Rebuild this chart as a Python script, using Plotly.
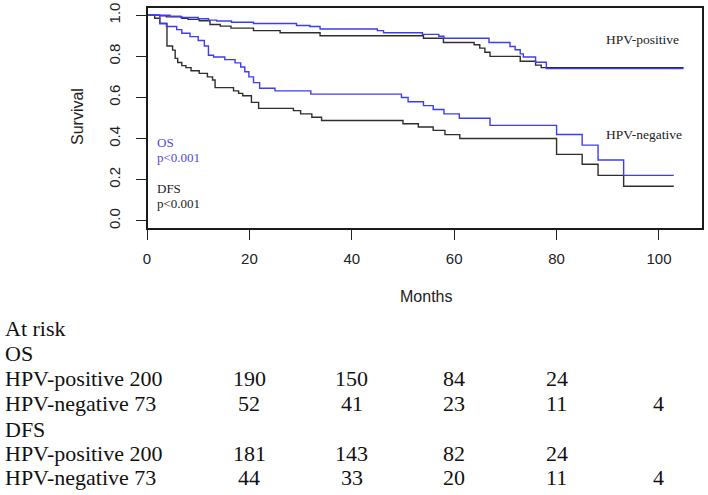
import plotly.graph_objects as go

# ---- Kaplan-Meier step data (months, survival) ----
os_pos_t = [0, 4.5, 6.6, 10.0, 12.0, 13.6, 16.5, 20.8, 29.2, 31.8, 33.8, 45.0, 46.2, 53.8, 57.0, 58.0, 66.8, 70.9, 71.9, 72.9, 73.5, 75.9, 78.0, 104.8]
os_pos_s = [1.0, 0.995, 0.989, 0.983, 0.976, 0.972, 0.966, 0.960, 0.950, 0.945, 0.933, 0.925, 0.915, 0.907, 0.898, 0.888, 0.867, 0.848, 0.832, 0.812, 0.797, 0.771, 0.740, 0.740]

dfs_pos_t = [0, 2.5, 3.8, 6.8, 8.0, 10.2, 12.3, 14.3, 16.4, 20.8, 26.0, 33.8, 54.0, 57.9, 63.9, 65.0, 66.0, 67.0, 72.9, 75.9, 77.0, 104.8]
dfs_pos_s = [1.0, 0.997, 0.992, 0.985, 0.980, 0.973, 0.955, 0.947, 0.937, 0.925, 0.915, 0.900, 0.888, 0.867, 0.856, 0.840, 0.820, 0.800, 0.776, 0.757, 0.745, 0.745]

os_neg_t = [0, 2.5, 3.8, 5.8, 6.8, 8.4, 10.0, 11.2, 12.0, 13.0, 15.2, 17.2, 18.3, 19.1, 19.9, 20.8, 22.0, 25.0, 32.0, 49.7, 51.0, 54.0, 55.9, 58.0, 61.0, 67.0, 80.0, 85.0, 88.1, 93.1, 102.9]
os_neg_s = [1.0, 0.960, 0.945, 0.930, 0.912, 0.896, 0.877, 0.850, 0.805, 0.797, 0.784, 0.768, 0.748, 0.725, 0.700, 0.672, 0.645, 0.632, 0.616, 0.600, 0.579, 0.560, 0.541, 0.520, 0.499, 0.464, 0.420, 0.368, 0.296, 0.221, 0.221]

dfs_neg_t = [0, 1.5, 2.5, 3.9, 5.0, 5.5, 6.0, 6.8, 7.6, 8.6, 10.2, 11.8, 12.8, 13.3, 16.9, 17.9, 18.7, 20.4, 21.8, 28.6, 30.0, 32.2, 34.1, 50.0, 53.0, 55.9, 58.2, 61.1, 80.0, 85.0, 88.1, 93.1, 102.9]
dfs_neg_s = [1.0, 0.985, 0.960, 0.850, 0.830, 0.790, 0.770, 0.755, 0.745, 0.730, 0.717, 0.700, 0.685, 0.648, 0.632, 0.620, 0.608, 0.576, 0.547, 0.536, 0.520, 0.504, 0.488, 0.472, 0.456, 0.440, 0.419, 0.400, 0.323, 0.275, 0.221, 0.168, 0.168]

# ---- axis ticks ----
x_ticks = [0, 20, 40, 60, 80, 100]
y_ticks = [0.0, 0.2, 0.4, 0.6, 0.8, 1.0]

# ---- at-risk table ----
risk_months = [20, 40, 60, 80, 100]
risk_rows = [
    ("At risk", []),
    ("OS", []),
    ("HPV-positive 200", ["190", "150", "84", "24", ""]),
    ("HPV-negative 73", ["52", "41", "23", "11", "4"]),
    ("DFS", []),
    ("HPV-positive 200", ["181", "143", "82", "24", ""]),
    ("HPV-negative 73", ["44", "33", "20", "11", "4"]),
]

BLUE = "#3c3cf5"
BLACK = "#2e2e2e"
TEXT_BLUE = "#4a4ae6"

fig = go.Figure()
for t, s, c in [(dfs_pos_t, dfs_pos_s, BLACK), (dfs_neg_t, dfs_neg_s, BLACK),
                (os_pos_t, os_pos_s, BLUE), (os_neg_t, os_neg_s, BLUE)]:
    fig.add_trace(go.Scatter(x=t, y=s, mode="lines", line=dict(color=c, width=1.4, shape="hv"),
                             showlegend=False, hoverinfo="skip"))

L, R, T, B = 147, 5, 3, 266
W, H = 708, 495
pw = W - L - R
ph = H - T - B

def px_to_paper_x(px):
    return (px - L) / pw

def px_to_paper_y(py):
    return (H - B - py) / ph

serif = "Liberation Serif, Times New Roman, serif"
sans = "Liberation Sans, Arial, sans-serif"

ann = []
# in-plot labels
ann.append(dict(x=89.3, y=0.88, xref="x", yref="y", text="HPV-positive", showarrow=False,
                xanchor="left", yanchor="middle", font=dict(family=serif, size=13.5, color="#222")))
ann.append(dict(x=89.3, y=0.42, xref="x", yref="y", text="HPV-negative", showarrow=False,
                xanchor="left", yanchor="middle", font=dict(family=serif, size=13.5, color="#222")))
for txt, yy, col in [("OS", 0.383, TEXT_BLUE), ("p<0.001", 0.31, TEXT_BLUE),
                     ("DFS", 0.157, "#222"), ("p<0.001", 0.085, "#222")]:
    ann.append(dict(x=1.5, y=yy, xref="x", yref="y", text=txt, showarrow=False,
                    xanchor="left", yanchor="middle", font=dict(family=serif, size=13, color=col)))

# axis titles
ann.append(dict(x=px_to_paper_x(425.5), y=px_to_paper_y(298), xref="paper", yref="paper", text="Months",
                showarrow=False, xanchor="center", yanchor="middle", font=dict(family=sans, size=16, color="#222")))
ann.append(dict(x=px_to_paper_x(77), y=px_to_paper_y(115), xref="paper", yref="paper", text="Survival",
                showarrow=False, textangle=-90, xanchor="center", yanchor="middle",
                font=dict(family=sans, size=16, color="#222")))

# at-risk table
row_y = [330, 355.7, 381.7, 406.7, 433.3, 457.7, 481.7]
for (label, vals), py in zip(risk_rows, row_y):
    ann.append(dict(x=px_to_paper_x(3), y=px_to_paper_y(py), xref="paper", yref="paper", text=label,
                    showarrow=False, xanchor="left", yanchor="middle",
                    font=dict(family=serif, size=22, color="#111")))
    for m, v in zip(risk_months, vals):
        if v:
            ann.append(dict(x=m, y=px_to_paper_y(py), xref="x", yref="paper", text=v, showarrow=False,
                            xanchor="center", yanchor="middle", font=dict(family=serif, size=22, color="#111")))

fig.update_layout(
    width=W, height=H,
    margin=dict(l=L, r=R, t=T, b=B, pad=0),
    paper_bgcolor="white", plot_bgcolor="white",
    annotations=ann,
    shapes=[dict(type="rect", xref="paper", yref="paper", x0=0, x1=1, y0=0, y1=1,
                 line=dict(color="#1a1a1a", width=2), layer="above")],
    xaxis=dict(range=[0, 108.6], tickvals=x_ticks, ticktext=[str(v) for v in x_ticks],
               showgrid=False, zeroline=False, showline=True, mirror=True, linecolor="#111", linewidth=1.4,
               ticks="outside", ticklen=10, tickwidth=1.2, tickcolor="#222",
               tickfont=dict(family=sans, size=15, color="#222"), ticklabelstandoff=6,
               ticklabeloverflow="allow"),
    yaxis=dict(range=[-0.04, 1.04], tickvals=y_ticks, ticktext=[f"{v:.1f}" for v in y_ticks],
               showgrid=False, zeroline=False, showline=True, mirror=True, linecolor="#111", linewidth=1.4,
               ticks="outside", ticklen=10, tickwidth=1.2, tickcolor="#222", tickangle=-90,
               tickfont=dict(family=sans, size=15, color="#222"), ticklabelstandoff=10,
               ticklabeloverflow="allow"),
)

fig.write_html("out.html", config={"displayModeBar": False},
               post_script="document.body.style.margin='0px';document.body.style.overflow='hidden';")
